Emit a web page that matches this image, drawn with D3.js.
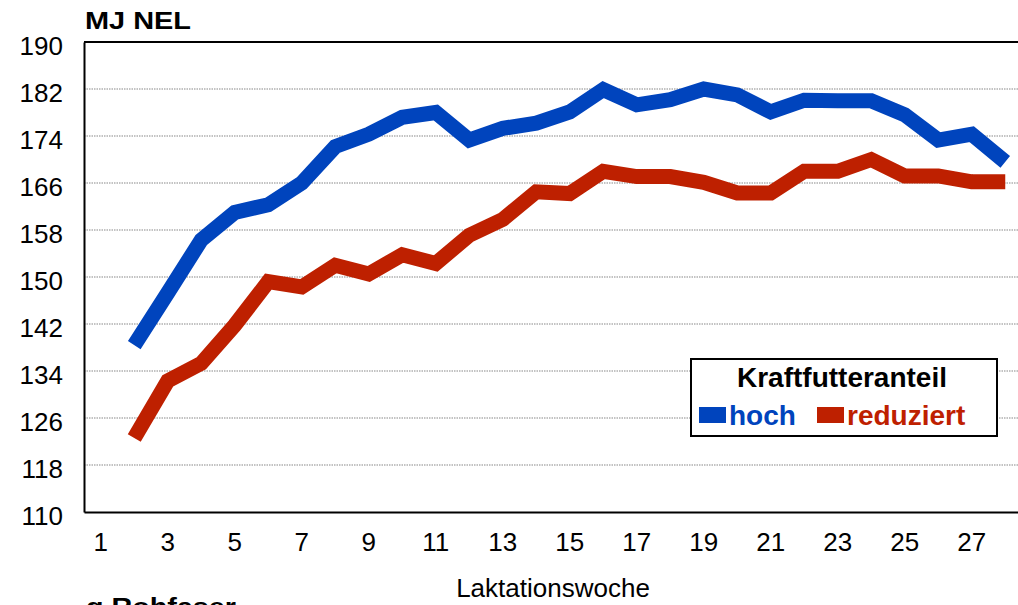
<!DOCTYPE html>
<html>
<head>
<meta charset="utf-8">
<script src="https://cdn.jsdelivr.net/npm/d3@7"></script>
<style>
  html, body { margin: 0; padding: 0; background: #fff; }
  svg { display: block; font-family: "Liberation Sans", Arial, sans-serif; }
</style>
</head>
<body>
<svg id="chart" width="1018" height="605"></svg>
<script>
// Lactation weeks shown on the category axis
const weeks = d3.range(1, 29);
const tickWeeks = [1, 3, 5, 7, 9, 11, 13, 15, 17, 19, 21, 23, 25, 27];
const yTicks = [110, 118, 126, 134, 142, 150, 158, 166, 174, 182, 190];

// Energy intake (MJ NEL) per week, from week 2 to week 28
const dataWeeks = d3.range(2, 29);
const hoch = [138.4, 147.3, 156.3, 161.0, 162.3, 166.0, 172.2, 174.3, 177.2, 178.0,
              173.3, 175.3, 176.2, 178.1, 181.9, 179.3, 180.2, 182.0, 181.0, 178.1,
              180.1, 180.0, 180.0, 177.6, 173.3, 174.3, 169.6];
const reduziert = [122.6, 132.3, 135.3, 141.8, 149.2, 148.3, 152.0, 150.5, 153.8, 152.3,
                   157.1, 159.8, 164.5, 164.2, 168.0, 167.1, 167.1, 166.1, 164.3, 164.3,
                   168.0, 168.0, 170.0, 167.2, 167.2, 166.2, 166.2];

const seriesNames = ["hoch", "reduziert"];
const seriesColors = ["#0044bd", "#be2000"];

const svg = d3.select("#chart");
const plotLeft = 84, plotTop = 42, plotBottom = 512, step = 33.5;
const plotRight = plotLeft + weeks.length * step;

const x = d3.scaleBand().domain(weeks).range([plotLeft, plotRight]).padding(0);
const y = d3.scaleLinear().domain([110, 190]).range([plotBottom, plotTop]);
const cx = w => x(w) + x.bandwidth() / 2;

// Dotted horizontal gridlines
svg.append("g")
  .selectAll("line")
  .data(yTicks.filter(t => t > 110 && t < 190))
  .join("line")
  .attr("x1", plotLeft).attr("x2", plotRight)
  .attr("y1", d => y(d)).attr("y2", d => y(d))
  .attr("stroke", "#888")
  .attr("stroke-width", 1.2)
  .attr("stroke-dasharray", "1.5,1");

// Top edge of the frame
svg.append("line").attr("x1", plotLeft).attr("x2", plotRight).attr("y1", plotTop).attr("y2", plotTop)
  .attr("stroke", "#000").attr("stroke-width", 2);

// Y axis
const yAxis = svg.append("g")
  .attr("transform", `translate(${plotLeft},0)`)
  .call(d3.axisLeft(y).tickValues(yTicks).tickSize(0).tickPadding(21));
yAxis.select(".domain").attr("stroke", "#000").attr("stroke-width", 2);
yAxis.selectAll("text")
  .attr("font-size", 26)
  .attr("font-family", "Liberation Sans, Arial, sans-serif")
  .attr("fill", "#000")
  .attr("dy", "0.48em");

// X axis
const xAxis = svg.append("g")
  .attr("transform", `translate(0,${plotBottom})`)
  .call(d3.axisBottom(x).tickValues(tickWeeks).tickSize(0).tickPadding(21));
xAxis.select(".domain").attr("stroke", "#000").attr("stroke-width", 2);
xAxis.selectAll("text")
  .attr("font-size", 26)
  .attr("font-family", "Liberation Sans, Arial, sans-serif")
  .attr("fill", "#000");

// Lines
const line = d3.line()
  .x((d, i) => cx(dataWeeks[i]))
  .y(d => y(d));

[hoch, reduziert].forEach((vals, i) => {
  svg.append("path")
    .datum(vals)
    .attr("d", line)
    .attr("fill", "none")
    .attr("stroke", seriesColors[i])
    .attr("stroke-width", 15)
    .attr("stroke-linejoin", "miter")
    .attr("stroke-linecap", "butt");
});

// Unit label
svg.append("text")
  .attr("x", 85).attr("y", 29)
  .attr("font-size", 23).attr("font-weight", "bold")
  .attr("textLength", 106).attr("lengthAdjust", "spacingAndGlyphs")
  .text("MJ NEL");

// X axis title
svg.append("text")
  .attr("x", 553).attr("y", 597)
  .attr("text-anchor", "middle")
  .attr("font-size", 26)
  .text("Laktationswoche");

// Next panel's unit label, running off the bottom edge
svg.append("text")
  .attr("x", 86).attr("y", 615)
  .attr("font-size", 23).attr("font-weight", "bold")
  .attr("textLength", 150).attr("lengthAdjust", "spacingAndGlyphs")
  .text("g Rohfaser");

// Legend
const lg = svg.append("g");
lg.append("rect")
  .attr("x", 691).attr("y", 359).attr("width", 306).attr("height", 77)
  .attr("fill", "#fff").attr("stroke", "#000").attr("stroke-width", 2);
lg.append("text")
  .attr("x", 842).attr("y", 387)
  .attr("text-anchor", "middle")
  .attr("font-size", 28).attr("font-weight", "bold")
  .text("Kraftfutteranteil");

const legendX = [699, 817];
seriesNames.forEach((name, i) => {
  lg.append("rect")
    .attr("x", legendX[i]).attr("y", 407).attr("width", 27).attr("height", 16)
    .attr("fill", seriesColors[i]);
  lg.append("text")
    .attr("x", legendX[i] + 30).attr("y", 425)
    .attr("font-size", 28).attr("font-weight", "bold")
    .attr("fill", seriesColors[i])
    .text(name);
});
</script>
</body>
</html>
